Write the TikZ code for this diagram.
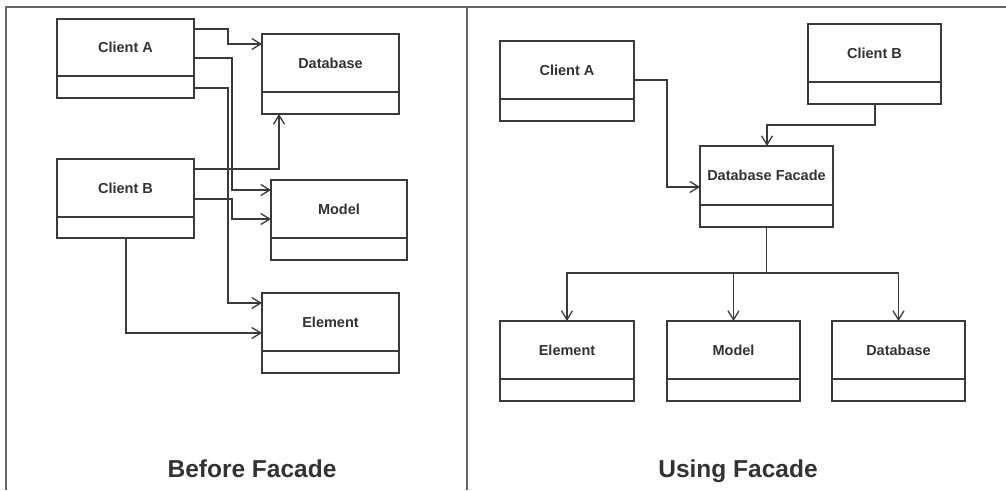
\documentclass[tikz,border=0pt]{standalone}
\usepackage{fontspec}
\setmainfont{Liberation Sans}
\usetikzlibrary{arrows.meta,calc}
\definecolor{ink}{HTML}{3A3A3A}
\definecolor{txt}{HTML}{333333}
\tikzset{
  box/.style={draw=ink, line width=1.4pt, rectangle, inner sep=0pt, outer sep=0pt, fill=white},
  divline/.style={draw=ink, line width=1.4pt},
  lbl/.style={text=txt, font=\fontsize{14.5}{17}\selectfont\bfseries, inner sep=0pt},
  title/.style={text=txt, font=\fontsize{24.5}{28}\selectfont\bfseries, inner sep=0pt, anchor=base},
  conn/.style={draw=ink, line width=1.3pt},
  arr/.style={conn, -{Straight Barb[length=9pt,width=11pt,line width=1.3pt]}},
  frame/.style={draw=black!60, line width=1.5pt}
}
% name, x1, y1, x2, y2, ydiv, text
\newcommand{\umlclass}[7]{%
  \node[box, anchor=north west, minimum width={#4-#2}, minimum height={#5-#3}] (#1) at (#2,#3) {};
  \draw[divline] (#2,#6) -- (#4,#6);
  \node[lbl] (#1-label) at ({(#2+#4)/2},{(#3+#6)/2}) {#7};
}
\begin{document}
\begin{tikzpicture}[x=1pt,y=-1pt]
\useasboundingbox (0,0) rectangle (1006,490);
% frame
\coordinate (fTL) at (6,7);
\coordinate (fBL) at (6,490);
\coordinate (fTM) at (467,7);
\coordinate (fBM) at (467,490);
\coordinate (fTR) at (1006,7);
\draw[frame] (fBL) -- (fTL) -- (fTR);
\draw[frame] (fTM) -- (fBM);

% ---------- Before Facade ----------
\umlclass{lca}{57}{19}{194}{98}{76}{Client A}
\umlclass{ldb}{262}{34}{399}{114}{92}{Database}
\umlclass{lcb}{57}{159}{194}{238}{217}{Client B}
\umlclass{lmo}{271}{180}{407}{260}{238}{Model}
\umlclass{lel}{262}{293}{399}{373}{351}{Element}

\draw[arr] ([yshift=-10pt]lca.north east) -- ++(34,0) |- ([yshift=-10pt]ldb.north west);
\draw[arr] ([yshift=-39pt]lca.north east) -- ++(38,0) |- ([yshift=-10pt]lmo.north west);
\draw[arr] ([yshift=-69pt]lca.north east) -- ++(34,0) |- ([yshift=-10pt]lel.north west);
\draw[arr] ([yshift=-10pt]lcb.north east) -| ([xshift=17pt]ldb.south west);
\draw[arr] ([yshift=-40pt]lcb.north east) -- ++(38,0) |- ([yshift=-39pt]lmo.north west);
\draw[arr] ([xshift=69pt]lcb.south west) |- ([yshift=-40pt]lel.north west);

\node[title] (t1) at (252,477) {Before Facade};

% ---------- Using Facade ----------
\umlclass{rca}{500}{41}{634}{121}{99}{Client A}
\umlclass{rcb}{808}{24}{941}{104}{82}{Client B}
\umlclass{rdf}{700}{146}{833}{227}{205}{Database Facade}
\umlclass{rel}{500}{321}{634}{401}{379}{Element}
\umlclass{rmo}{667}{321}{800}{401}{379}{Model}
\umlclass{rdb}{832}{321}{965}{401}{379}{Database}

\draw[arr] ([yshift=-39pt]rca.north east) -- ++(33,0) |- ([yshift=-41pt]rdf.north west);
\draw[arr] ([xshift=67pt]rcb.south west) -- ++(0,21) -| ([xshift=67pt]rdf.north west);
\coordinate (hub) at ($(rdf.south)+(0,46)$);
\draw[conn] (rdf.south) -- (hub);
\draw[arr] (hub) -| (rel.north);
\draw[arr] (hub) -| (rmo.north);
\draw[arr] (hub) -| (rdb.north);

\node[title] (t2) at (738,477) {Using Facade};
\end{tikzpicture}
\end{document}
